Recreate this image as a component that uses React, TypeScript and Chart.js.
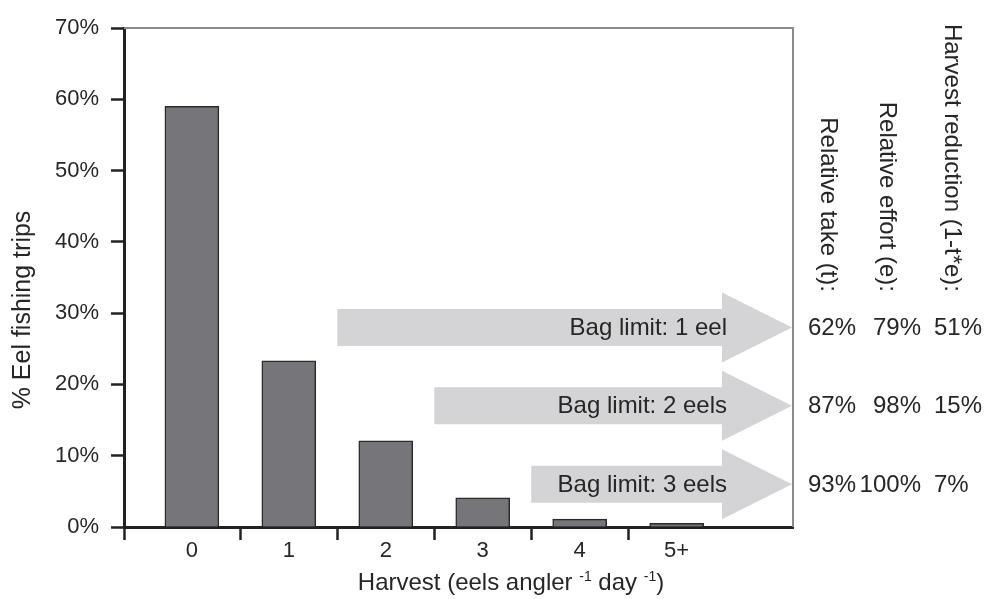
import React, { useEffect, useRef } from 'react';
import { Chart, registerables } from 'chart.js';

Chart.register(...registerables);

// ---- data ----
const categories = ['0', '1', '2', '3', '4', '5+'];
const harvestPositions = [0, 1, 2, 3, 4, 5];
const tripShares = [59.0, 23.3, 12.1, 4.1, 1.1, 0.5];
const yTickValues = [0, 10, 20, 30, 40, 50, 60, 70];

const bagLimitLabels = ['Bag limit: 1 eel', 'Bag limit: 2 eels', 'Bag limit: 3 eels'];
const bagLimitStarts = [1.5, 2.5, 3.5];
const bagLimitLevels = [28, 17, 6];

const columnHeaders = ['Relative take (t):', 'Relative effort (e):', 'Harvest reduction (1-t*e):'];
const relativeTake = ['62%', '87%', '93%'];
const relativeEffort = ['79%', '98%', '100%'];
const harvestReduction = ['51%', '15%', '7%'];

const yTitle = '% Eel fishing trips';
const xTitleParts: [string, boolean][] = [
  ['Harvest (eels angler ', false],
  ['-1', true],
  [' day ', false],
  ['-1', true],
  [')', false],
];

const X_MIN = -0.7;
const X_MAX = 6.2;

const FONT = "'Liberation Sans', Arial, Helvetica, sans-serif";
const TEXT = '#262626';

const overlayPlugin = {
  id: 'overlay',
  afterDatasetsDraw(chart: any) {
    const { ctx, chartArea: a, scales } = chart;
    const x = scales.x;
    const y = scales.y;
    ctx.save();

    // arrows
    bagLimitLabels.forEach((label, i) => {
      const cy = y.getPixelForValue(bagLimitLevels[i]);
      const x0 = x.getPixelForValue(bagLimitStarts[i]);
      const tip = a.right - 1;
      const headBase = tip - 70;
      const sh = 18.5;
      const hh = 35;
      ctx.beginPath();
      ctx.moveTo(x0, cy - sh);
      ctx.lineTo(headBase, cy - sh);
      ctx.lineTo(headBase, cy - hh);
      ctx.lineTo(tip, cy);
      ctx.lineTo(headBase, cy + hh);
      ctx.lineTo(headBase, cy + sh);
      ctx.lineTo(x0, cy + sh);
      ctx.closePath();
      ctx.fillStyle = '#d4d4d6';
      ctx.fill();

      ctx.font = `24px ${FONT}`;
      ctx.fillStyle = TEXT;
      ctx.textAlign = 'right';
      ctx.textBaseline = 'middle';
      ctx.fillText(label, headBase + 5, cy + 1);

      // right-side values
      ctx.textAlign = 'left';
      ctx.fillText(relativeTake[i], a.right + 15, cy + 1);
      ctx.textAlign = 'right';
      ctx.fillText(relativeEffort[i], a.right + 128, cy + 1);
      ctx.textAlign = 'left';
      ctx.fillText(harvestReduction[i], a.right + 141, cy + 1);
    });

    // top and right frame
    ctx.strokeStyle = '#8a8a8a';
    ctx.lineWidth = 2;
    ctx.beginPath();
    ctx.moveTo(a.left, a.top);
    ctx.lineTo(a.right, a.top);
    ctx.lineTo(a.right, a.bottom);
    ctx.stroke();

    // rotated column headers
    const headerX = [35, 94, 159];
    ctx.font = `24px ${FONT}`;
    ctx.fillStyle = TEXT;
    columnHeaders.forEach((h, i) => {
      ctx.save();
      ctx.translate(a.right + headerX[i], 292);
      ctx.rotate(Math.PI / 2);
      ctx.textAlign = 'right';
      ctx.textBaseline = 'middle';
      ctx.fillText(h, 0, 0);
      ctx.restore();
    });

    // y title
    ctx.save();
    ctx.translate(23, 310);
    ctx.rotate(-Math.PI / 2);
    ctx.textAlign = 'center';
    ctx.textBaseline = 'middle';
    ctx.font = `25px ${FONT}`;
    ctx.fillText(yTitle, 0, 0);
    ctx.restore();

    // x title with superscripts
    const mainFont = `24px ${FONT}`;
    const supFont = `14px ${FONT}`;
    let total = 0;
    xTitleParts.forEach(([t, sup]) => {
      ctx.font = sup ? supFont : mainFont;
      total += ctx.measureText(t).width;
    });
    let cx = 511 - total / 2;
    const baseY = 590;
    ctx.textAlign = 'left';
    ctx.textBaseline = 'alphabetic';
    xTitleParts.forEach(([t, sup]) => {
      ctx.font = sup ? supFont : mainFont;
      ctx.fillText(t, cx, sup ? baseY - 9 : baseY);
      cx += ctx.measureText(t).width;
    });

    ctx.restore();
  },
};

export default function App() {
  const ref = useRef<HTMLCanvasElement>(null);

  useEffect(() => {
    if (!ref.current) return;
    Chart.defaults.font.family = FONT;
    const xTicks: number[] = [X_MIN];
    harvestPositions.forEach((p, i) => {
      xTicks.push(p);
      if (i < harvestPositions.length - 1) xTicks.push(p + 0.5);
    });

    const chart = new Chart(ref.current, {
      type: 'bar',
      data: {
        datasets: [
          {
            label: yTitle,
            data: harvestPositions.map((p, i) => ({ x: p, y: tripShares[i] })),
            backgroundColor: '#76767a',
            borderColor: '#2a2a2a',
            borderWidth: 1.5,
            barThickness: 54,
          },
        ],
      },
      options: {
        responsive: false,
        animation: false,
        devicePixelRatio: 1,
        layout: { padding: { left: 0, top: 28, right: 195, bottom: 0 } },
        plugins: {
          legend: { display: false },
          tooltip: { enabled: false },
          title: { display: false },
        },
        scales: {
          x: {
            type: 'linear',
            min: X_MIN,
            max: X_MAX,
            bounds: 'data',
            offset: false,
            afterFit: (s: any) => {
              s.height = 72;
            },
            afterBuildTicks: (s: any) => {
              s.ticks = xTicks.map((v) => ({ value: v }));
            },
            grid: {
              offset: false,
              drawOnChartArea: false,
              drawTicks: true,
              tickLength: 13,
              tickWidth: 2.5,
              tickColor: (c: any) => {
                const v = c.tick ? c.tick.value : 0;
                return Number.isInteger(v) ? 'rgba(0,0,0,0)' : '#222';
              },
            },
            border: { display: true, color: '#222', width: 3 },
            ticks: {
              autoSkip: false,
              maxRotation: 0,
              padding: -2,
              color: TEXT,
              font: { size: 22, family: FONT },
              callback: (v: any) => {
                const n = Number(v);
                return Number.isInteger(n) && n >= 0 ? categories[n] : '';
              },
            },
          },
          y: {
            type: 'linear',
            min: yTickValues[0],
            max: yTickValues[yTickValues.length - 1],
            afterFit: (s: any) => {
              s.width = 124;
            },
            afterBuildTicks: (s: any) => {
              s.ticks = yTickValues.map((v) => ({ value: v }));
            },
            grid: {
              drawOnChartArea: false,
              drawTicks: true,
              tickLength: 13,
              tickWidth: 2.5,
              tickColor: '#222',
            },
            border: { display: true, color: '#222', width: 3 },
            ticks: {
              padding: 12,
              color: TEXT,
              font: { size: 22, family: FONT },
              callback: (v: any) => `${v}%`,
            },
          },
        },
      },
      plugins: [overlayPlugin],
    });
    return () => chart.destroy();
  }, []);

  return (
    <div style={{ position: 'fixed', left: 0, top: 0, width: 988, height: 599, background: '#fff' }}>
      <canvas ref={ref} width={988} height={599} style={{ display: 'block' }} />
    </div>
  );
}
